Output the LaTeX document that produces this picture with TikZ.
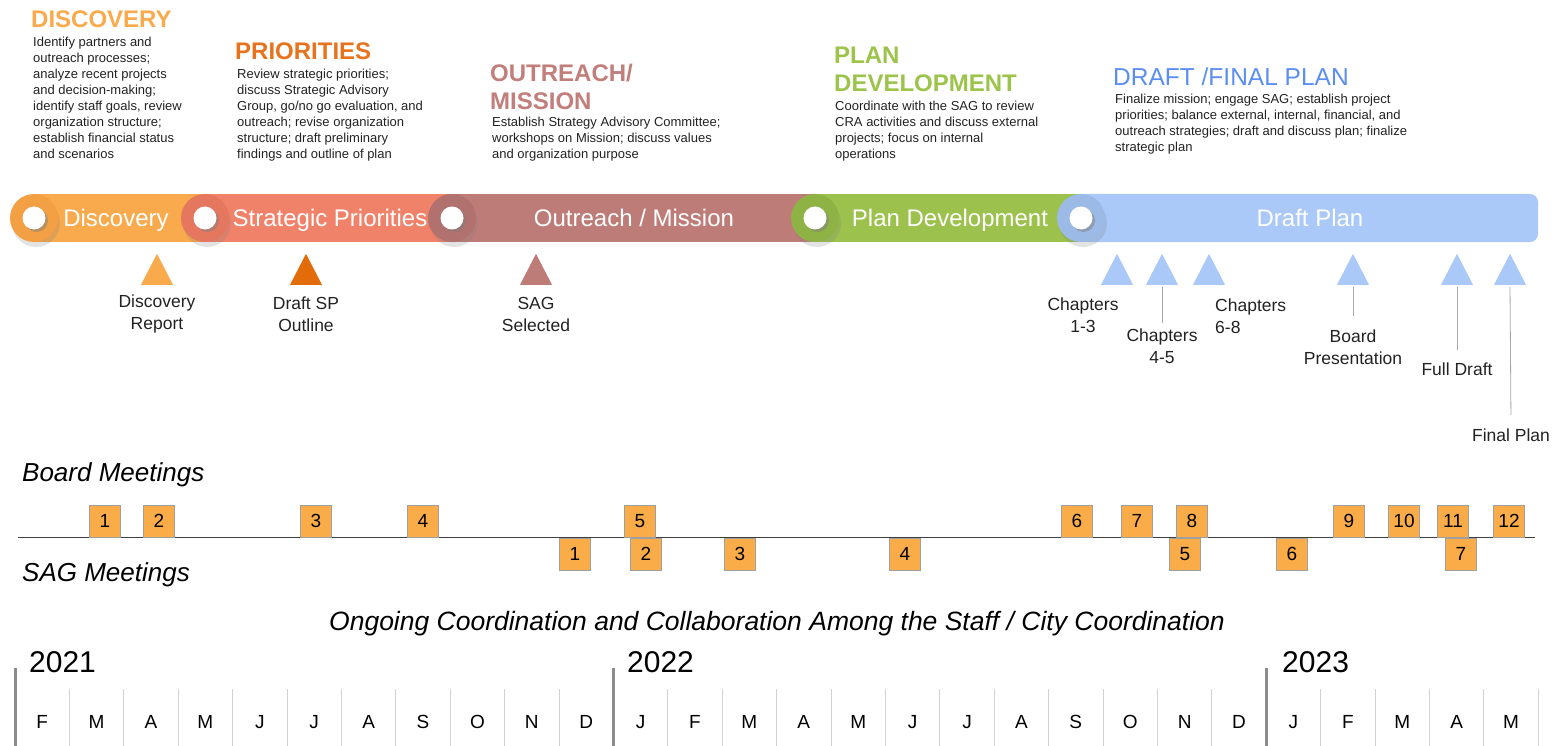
\documentclass[tikz,border=0pt]{standalone}
\usepackage{fontspec}
\setmainfont{Liberation Sans}
\usetikzlibrary{shapes.geometric,shadows}

% phase colours
\definecolor{discC}{HTML}{F9AA4C}
\definecolor{discD}{HTML}{F2A043}
\definecolor{prioHead}{HTML}{E8731E}
\definecolor{prioC}{HTML}{F0826A}
\definecolor{prioD}{HTML}{E5775F}
\definecolor{missHead}{HTML}{C27E7B}
\definecolor{missC}{HTML}{BE7C79}
\definecolor{missD}{HTML}{B1716E}
\definecolor{planHead}{HTML}{9CC44B}
\definecolor{planC}{HTML}{9CC14D}
\definecolor{planD}{HTML}{8EB344}
\definecolor{draftHead}{HTML}{5B8EF2}
\definecolor{draftC}{HTML}{AAC8F8}
\definecolor{draftD}{HTML}{9BBAE6}
\definecolor{spTri}{HTML}{E36C0A}
\definecolor{boxC}{HTML}{FAAC48}
\definecolor{bodyT}{HTML}{222222}

\begin{document}
\begin{tikzpicture}[x=1pt,y=-1pt,
  % multi-line nodes are placed by the baseline of their last line
  head/.style={anchor=base west, inner sep=0pt, align=left,
    font=\fontsize{24}{28.5}\selectfont\bfseries},
  body/.style={anchor=base west, inner sep=0pt, align=left, text=bodyT,
    font=\fontsize{13}{16}\selectfont},
  barlbl/.style={anchor=base, inner sep=0pt, text=white,
    font=\fontsize{24}{28}\selectfont},
  capc/.style={circle, minimum size=48pt, inner sep=0pt,
    drop shadow={opacity=0.22, shadow xshift=2pt, shadow yshift=-5pt}},
  dotc/.style={circle, fill=white, minimum size=23pt, inner sep=0pt,
    drop shadow={opacity=0.5, shadow xshift=2.5pt, shadow yshift=-2.5pt}},
  tri/.style={isosceles triangle, isosceles triangle stretches,
    shape border rotate=90, minimum width=32pt, minimum height=31pt,
    inner sep=0pt, anchor=lower side},
  mlbl/.style={anchor=base, inner sep=3pt, align=center, text=bodyT,
    font=\fontsize{17.5}{22}\selectfont},
  conn/.style={draw=gray!70, line width=0.8pt},
  mtg/.style={draw=gray!75, fill=boxC, minimum width=31pt, minimum height=32pt,
    inner sep=0pt, font=\fontsize{19}{19}\selectfont},
  rowlbl/.style={anchor=base west, inner sep=0pt,
    font=\fontsize{26}{26}\selectfont\itshape},
  yearlbl/.style={anchor=base west, inner sep=0pt,
    font=\fontsize{30}{30}\selectfont},
  month/.style={anchor=base, inner sep=0pt, font=\fontsize{19}{19}\selectfont}
]
\useasboundingbox (0,0) rectangle (1558,746);

% ---------- phase descriptions ----------
\node[head, text=discC] (hDisc) at (31,28) {DISCOVERY};
\node[body] (bDisc) at (33,159) {Identify partners and\\outreach processes;\\analyze recent projects\\and decision-making;\\identify staff goals, review\\organization structure;\\establish financial status\\and scenarios};

\node[head, text=prioHead] (hPrio) at (235,60) {PRIORITIES};
\node[body] (bPrio) at (237,159) {Review strategic priorities;\\discuss Strategic Advisory\\Group, go/no go evaluation, and\\outreach; revise organization\\structure; draft preliminary\\findings and outline of plan};

\node[head, text=missHead] (hMiss) at (490,110) {OUTREACH/\\MISSION};
\node[body] (bMiss) at (492,159) {Establish Strategy Advisory Committee;\\workshops on Mission; discuss values\\and organization purpose};

\node[head, text=planHead] (hPlan) at (834,92) {PLAN\\DEVELOPMENT};
\node[body] (bPlan) at (835,159) {Coordinate with the SAG to review\\CRA activities and discuss external\\projects; focus on internal\\operations};

\node[head, text=draftHead, font=\fontsize{24.5}{28}\selectfont] (hDraft) at (1113,86) {DRAFT /FINAL PLAN};
\node[body] (bDraft) at (1115,152) {Finalize mission; engage SAG; establish project\\priorities; balance external, internal, financial, and\\outreach strategies; draft and discuss plan; finalize\\strategic plan};

% ---------- phase bar ----------
\fill[discC] (34,194) rectangle (205,242);
\fill[prioC] (205,194) rectangle (452,242);
\fill[missC] (452,194) rectangle (815,242);
\fill[planC] (815,194) rectangle (1081,242);
\fill[draftC, rounded corners=8pt] (1081,194) rectangle (1538,242);
\fill[draftC] (1081,194) rectangle (1110,242);

\node[capc, fill=discD]  (cDisc)  at (34,218) {};
\node[capc, fill=prioD]  (cPrio)  at (205,218) {};
\node[capc, fill=missD]  (cMiss)  at (452,218) {};
\node[capc, fill=planD]  (cPlan)  at (815,218) {};
\node[capc, fill=draftD] (cDraft) at (1081,218) {};

\node[dotc] (dDisc)  at (34,218) {};
\node[dotc] (dPrio)  at (205,218) {};
\node[dotc] (dMiss)  at (452,218) {};
\node[dotc] (dPlan)  at (815,218) {};
\node[dotc] (dDraft) at (1081,218) {};

\node[barlbl] (lDisc)  at (116,226)  {Discovery};
\node[barlbl] (lPrio)  at (330,226)  {Strategic Priorities};
\node[barlbl] (lMiss)  at (634,226)  {Outreach / Mission};
\node[barlbl] (lPlan)  at (950,226)  {Plan Development};
\node[barlbl] (lDraft) at (1310,226) {Draft Plan};

% ---------- milestones ----------
\node[tri, fill=discC]  (tDisc)  at (157,285)  {};
\node[tri, fill=spTri]  (tSP)    at (306,285)  {};
\node[tri, fill=missC]  (tSAG)   at (536,285)  {};
\node[tri, fill=draftC] (tCh13)  at (1117,285) {};
\node[tri, fill=draftC] (tCh45)  at (1162,285) {};
\node[tri, fill=draftC] (tCh68)  at (1209,285) {};
\node[tri, fill=draftC] (tBoard) at (1353,285) {};
\node[tri, fill=draftC] (tFull)  at (1457,285) {};
\node[tri, fill=draftC] (tFinal) at (1510,285) {};

\node[mlbl] (mDisc)  at (157,329)  {Discovery\\Report};
\node[mlbl] (mSP)    at (306,331)  {Draft SP\\Outline};
\node[mlbl] (mSAG)   at (536,331)  {SAG\\Selected};
\node[mlbl] (mCh13)  at (1083,332) {Chapters\\1-3};
\node[mlbl] (mCh45)  at (1162,363) {Chapters\\4-5};
\node[mlbl, anchor=base west, align=left, inner sep=0pt] (mCh68) at (1215,333) {Chapters\\6-8};
\node[mlbl] (mBoard) at (1353,364) {Board\\Presentation};
\node[mlbl] (mFull)  at (1457,375) {Full Draft};
\node[mlbl] (mFinal) at (1511,441) {Final Plan};

\draw[conn, shorten <=2pt, shorten >=2pt] (tCh45.lower side) -- (mCh45.north);
\draw[conn, shorten <=2pt, shorten >=10pt] (tBoard.lower side) -- (mBoard.north);
\draw[conn, shorten <=2pt, shorten >=9pt] (tFull.lower side) -- (mFull.north);
\draw[conn, shorten <=2pt, shorten >=10pt] (tFinal.lower side) -- (mFinal.north);

% ---------- meetings ----------
\node[rowlbl] (rBoard) at (22,481) {Board Meetings};
\node[rowlbl] (rSAG)   at (22,581) {SAG Meetings};

\coordinate (rowL) at (18,537);
\coordinate (rowR) at (1535,537);
\draw[black!75, line width=1pt] (rowL) -- (rowR);

\foreach \n/\x in {1/105,2/159,3/316,4/423,5/640,6/1077,7/1137,8/1192,9/1349,10/1404,11/1453,12/1509}
  \node[mtg] (bm\n) at (\x,521) {\n};
\foreach \n/\x in {1/575,2/646,3/740,4/905,5/1185,6/1292,7/1461}
  \node[mtg] (sm\n) at (\x,554) {\n};

% ---------- calendar ----------
\node[anchor=base, inner sep=0pt, font=\fontsize{26.5}{26.5}\selectfont\itshape] (ongoing) at (777,630)
  {Ongoing Coordination and Collaboration Among the Staff / City Coordination};

\node[yearlbl] (y21) at (29,672)   {2021};
\node[yearlbl] (y22) at (627,672)  {2022};
\node[yearlbl] (y23) at (1282,672) {2023};

\foreach \i in {1,...,10,12,13,...,22,24,25,...,28}
  \draw[gray!35, line width=1pt] ({15+54.4*\i},689) -- ({15+54.4*\i},746);
\foreach \i in {0,11,23}
  \draw[gray!90, line width=3pt] ({15+54.4*\i},668) -- ({15+54.4*\i},746);

\foreach \m [count=\i from 0] in {F,M,A,M,J,J,A,S,O,N,D,J,F,M,A,M,J,J,A,S,O,N,D,J,F,M,A,M}
  \node[month] (mo\i) at ({15+54.4*(\i+0.5)},728) {\m};
\end{tikzpicture}
\end{document}
